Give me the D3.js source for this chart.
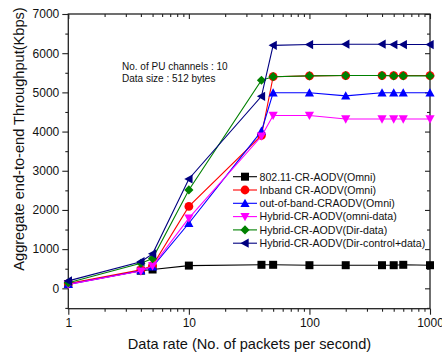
<!DOCTYPE html>
<html>
<head>
<meta charset="utf-8">
<script src="https://cdn.jsdelivr.net/npm/d3@7"></script>
<style>
  body { margin: 0; background: #fff; }
  svg text { font-family: "Liberation Sans", Arial, sans-serif; fill: #111; }
</style>
</head>
<body>
<svg id="chart" width="442" height="358"></svg>
<script>
// packet rates on the x axis
const rates = [1, 4, 5, 10, 40, 50, 100, 200, 400, 500, 600, 1000];

const seriesNames = [
  '802.11-CR-AODV(Omni)',
  'Inband CR-AODV(Omni)',
  'out-of-band-CRAODV(Omni)',
  'Hybrid-CR-AODV(omni-data)',
  'Hybrid-CR-AODV(Dir-data)',
  'Hybrid-CR-AODV(Dir-control+data)'
];

const omni80211 = [110, 450, 480, 580, 600, 600, 590, 590, 590, 590, 600, 590];
const inband = [120, 470, 580, 2090, 3900, 5400, 5420, 5430, 5430, 5430, 5430, 5430];
const outOfBand = [100, 450, 550, 1660, 4010, 4990, 4990, 4910, 4990, 4990, 4990, 4990];
const hybridOmni = [100, 440, 570, 1790, 3880, 4410, 4410, 4320, 4320, 4320, 4320, 4320];
const hybridDir = [140, 640, 760, 2510, 5310, 5400, 5420, 5430, 5430, 5420, 5420, 5420];
const hybridDirCtrl = [190, 680, 880, 2790, 4900, 6200, 6220, 6230, 6230, 6220, 6220, 6220];

const seriesValues = [omni80211, inband, outOfBand, hybridOmni, hybridDir, hybridDirCtrl];
const colors = ['#000000', '#ff0000', '#0000ff', '#ff00ff', '#008000', '#000080'];
const symbols = ['square', 'circle', 'up', 'down', 'diamond', 'left'];

const yMajor = [0, 1000, 2000, 3000, 4000, 5000, 6000, 7000];
const xMajor = [1, 10, 100, 1000];

const svg = d3.select('#chart');
const plotL = 68.3, plotR = 430, plotT = 14, plotB = 308.7;

const x = d3.scaleLog().domain([1, 1000]).range([plotL, plotR]);
const y = d3.scaleLinear().domain([-520, 7000]).range([plotB, plotT]);

const yMinor = d3.range(-500, 7000, 1000);
const xMinor = [];
[1, 10, 100].forEach(b => { for (let k = 2; k < 10; k++) xMinor.push(b * k); });

function styleAxis(g) {
  g.select('.domain').remove();
  g.selectAll('line').attr('stroke', '#222').attr('stroke-width', 1.1);
}

// left axis: ticks out
svg.append('g').attr('transform', `translate(${plotL},0)`)
  .call(d3.axisLeft(y).tickValues(yMajor).tickSize(6).tickPadding(3).tickFormat(d3.format('d')))
  .call(styleAxis)
  .selectAll('text').attr('font-size', 12).attr('fill', '#111');
svg.append('g').attr('transform', `translate(${plotL},0)`)
  .call(d3.axisLeft(y).tickValues(yMinor).tickSize(3).tickFormat(''))
  .call(styleAxis);

// right axis: ticks in
svg.append('g').attr('transform', `translate(${plotR},0)`)
  .call(d3.axisLeft(y).tickValues(yMajor).tickSize(5).tickFormat(''))
  .call(styleAxis);
svg.append('g').attr('transform', `translate(${plotR},0)`)
  .call(d3.axisLeft(y).tickValues(yMinor).tickSize(3).tickFormat(''))
  .call(styleAxis);

// bottom axis: ticks out
svg.append('g').attr('transform', `translate(0,${plotB})`)
  .call(d3.axisBottom(x).tickValues(xMajor).tickSize(6).tickPadding(4).tickFormat(d3.format('d')))
  .call(styleAxis)
  .selectAll('text').attr('font-size', 12).attr('fill', '#111');
svg.append('g').attr('transform', `translate(0,${plotB})`)
  .call(d3.axisBottom(x).tickValues(xMinor).tickSize(3).tickFormat(''))
  .call(styleAxis);

// top axis: ticks in
svg.append('g').attr('transform', `translate(0,${plotT})`)
  .call(d3.axisBottom(x).tickValues(xMajor).tickSize(5).tickFormat(''))
  .call(styleAxis);
svg.append('g').attr('transform', `translate(0,${plotT})`)
  .call(d3.axisBottom(x).tickValues(xMinor).tickSize(3).tickFormat(''))
  .call(styleAxis);

// frame
svg.append('rect')
  .attr('x', plotL).attr('y', plotT)
  .attr('width', plotR - plotL).attr('height', plotB - plotT)
  .attr('fill', 'none').attr('stroke', '#222').attr('stroke-width', 1.3);

function marker(g, kind, color) {
  const s = 4.6;
  let path;
  if (kind === 'square') path = `M${-s + 0.6},${-s + 0.6}h${2 * s - 1.2}v${2 * s - 1.2}h${-2 * s + 1.2}Z`;
  else if (kind === 'up') path = `M0,${-s}L${s},${s * 0.8}L${-s},${s * 0.8}Z`;
  else if (kind === 'down') path = `M0,${s}L${s},${-s * 0.8}L${-s},${-s * 0.8}Z`;
  else if (kind === 'left') path = `M${-s},0L${s * 0.8},${-s}L${s * 0.8},${s}Z`;
  else if (kind === 'diamond') path = `M0,${-s}L${s},0L0,${s}L${-s},0Z`;
  if (kind === 'circle') g.append('circle').attr('r', s - 0.2).attr('fill', color);
  else g.append('path').attr('d', path).attr('fill', color);
}

const line = d3.line().x(d => x(d[0])).y(d => y(d[1]));

seriesValues.forEach((vals, i) => {
  const pts = rates.map((r, j) => [r, vals[j]]);
  svg.append('path').datum(pts)
    .attr('d', line).attr('fill', 'none')
    .attr('stroke', colors[i]).attr('stroke-width', 1.1);
  pts.forEach(p => {
    const g = svg.append('g').attr('transform', `translate(${x(p[0])},${y(p[1])})`);
    marker(g, symbols[i], colors[i]);
  });
});

// legend
const legend = svg.append('g');
seriesNames.forEach((name, i) => {
  const ly = 176.7 + i * 13.3;
  legend.append('line').attr('x1', 233).attr('x2', 257).attr('y1', ly).attr('y2', ly)
    .attr('stroke', colors[i]).attr('stroke-width', 1.1);
  marker(legend.append('g').attr('transform', `translate(245,${ly})`), symbols[i], colors[i]);
  legend.append('text').attr('x', 259.5).attr('y', ly + 3.8)
    .attr('font-size', 10.6).text(name);
});

// annotation
svg.append('text').attr('x', 122).attr('y', 70).attr('font-size', 10).text('No. of PU channels : 10');
svg.append('text').attr('x', 122).attr('y', 82).attr('font-size', 10).text('Data size : 512 bytes');

// axis titles
svg.append('text').attr('x', 249.5).attr('y', 349).attr('text-anchor', 'middle')
  .attr('font-size', 14.6).text('Data rate (No. of packets per second)');
svg.append('text').attr('transform', 'translate(24,139) rotate(-90)').attr('text-anchor', 'middle')
  .attr('font-size', 14.6).text('Aggregate end-to-end Throughput(Kbps)');
</script>
</body>
</html>
